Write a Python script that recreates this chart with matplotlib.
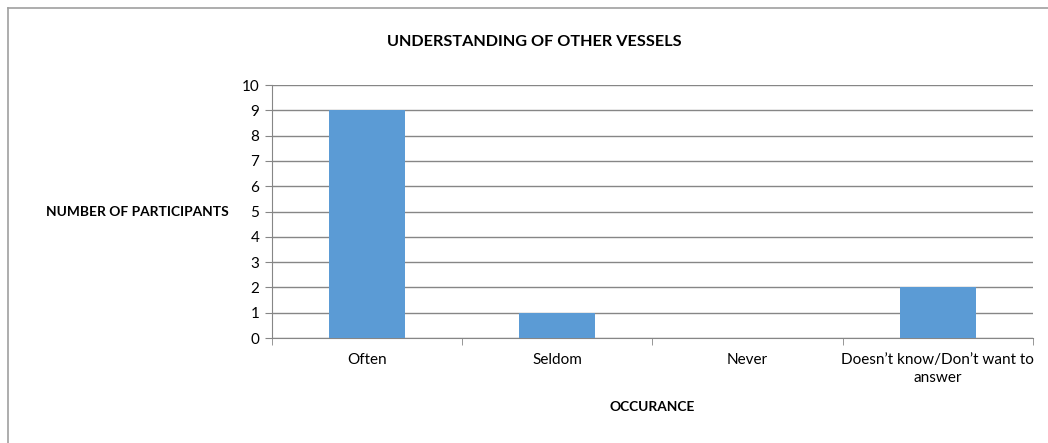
import matplotlib
matplotlib.use("Agg")
from matplotlib import pyplot as plt
from matplotlib.lines import Line2D
import numpy as np

categories = ["Often", "Seldom", "Never", "Doesn\u2019t know/Don\u2019t want to\nanswer"]
participants = [9, 1, 0, 2]
y_ticks = list(range(0, 11))

plt.rcParams["font.family"] = ["Lato", "DejaVu Sans"]

fig = plt.figure(figsize=(10.48, 4.43), dpi=100)
ax = fig.add_axes([0.2595, 0.237, 0.7262, 0.571])

x = np.arange(len(categories))
ax.bar(x, participants, width=0.4, color="#5B9BD5", zorder=3)

ax.set_xlim(-0.5, len(categories) - 0.5)
ax.set_ylim(0, 10)
ax.set_yticks(y_ticks)
ax.yaxis.grid(True, color="#868686", linewidth=1)
ax.set_axisbelow(True)

ax.set_xticks(x)
ax.set_xticklabels(categories, fontsize=11, linespacing=1.3)
ax.tick_params(axis="x", length=0, pad=11)
ax.set_xticks(np.arange(-0.5, len(categories)), minor=True)
ax.tick_params(axis="x", which="minor", length=5, color="#868686")
ax.tick_params(axis="y", length=5, color="#868686", labelsize=11, pad=4)

for side in ["top", "right"]:
    ax.spines[side].set_visible(False)
for side in ["left", "bottom"]:
    ax.spines[side].set_color("#868686")

fig.text(0.51, 0.905, "UNDERSTANDING OF OTHER VESSELS", ha="center", va="center",
         fontsize=11.7, fontweight="bold")
fig.text(0.131, 0.521, "NUMBER OF PARTICIPANTS", ha="center", va="center",
         fontsize=9.9, fontweight="bold")
fig.text(0.622, 0.081, "OCCURANCE", ha="center", va="center",
         fontsize=9.9, fontweight="bold")

# outer chart frame (left and top edges visible)
fig.add_artist(Line2D([0.0081, 0.0081], [0, 0.982], transform=fig.transFigure,
                      color="#A0A0A0", linewidth=1.2))
fig.add_artist(Line2D([0.0081, 1.0], [0.982, 0.982], transform=fig.transFigure,
                      color="#A0A0A0", linewidth=1.2))

fig.savefig("out.png", dpi=100)
